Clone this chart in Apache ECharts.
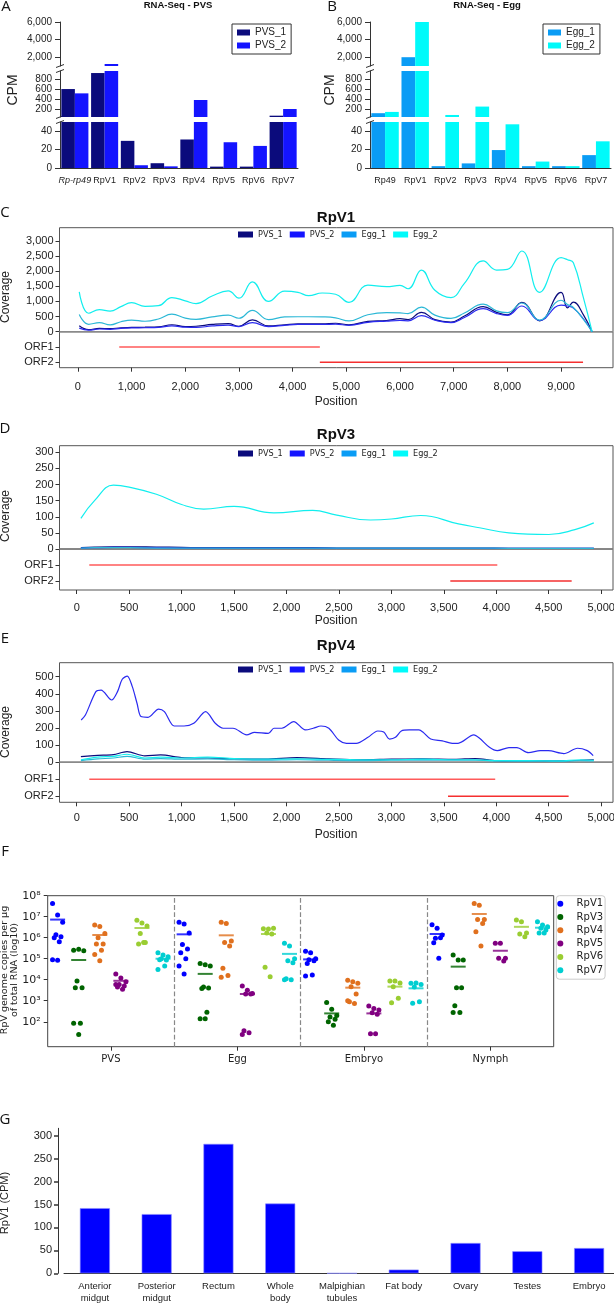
<!DOCTYPE html>
<html>
<head>
<meta charset="utf-8">
<script src="https://cdn.jsdelivr.net/npm/echarts@6/dist/echarts.min.js"></script>
<style>
  html, body { margin: 0; padding: 0; background: #fff; }
  #main { width: 614px; height: 1304px; }
</style>
</head>
<body>
<div id="main"></div>
<script>
// ---- A / B : RNA-Seq CPM (split y axis) ----
var cpmCats = ["Rp-rp49", "RpV1", "RpV2", "RpV3", "RpV4", "RpV5", "RpV6", "RpV7"];
var cpmCatsEgg = ["Rp49", "RpV1", "RpV2", "RpV3", "RpV4", "RpV5", "RpV6", "RpV7"];
var pvs1Cpm = [600, 915, 29.5, 5.2, 31, 1.5, 1.5, 76];
var pvs2Cpm = [515, 1230, 3, 1.8, 385, 28, 24, 207];
var egg1Cpm = [125, 2000, 2, 5, 19.5, 2, 2, 14];
var egg2Cpm = [150, 6000, 90, 255, 47.5, 7, 2, 29];
var segMin = [1000, 50, 0];
var segMax = [6000, 955, 50];
var segTicks = [[2000, 4000, 6000], [200, 400, 600, 800], [0, 20, 40]];

// ---- C : RpV1 coverage ----
var c1Pos = [25, 200, 400, 600, 800, 1000, 1250, 1500, 1750, 2000, 2200, 2500, 2800, 3000, 3250, 3550, 3850, 4100, 4300, 4550,
  4800, 5050, 5400, 5750, 6000, 6150, 6400, 6650, 6950, 7200, 7550, 7800, 8000, 8270, 8600, 9000, 9120, 9230, 9420, 9578];
var c1Pvs1 = [200, 70, 110, 100, 130, 140, 150, 160, 230, 170, 180, 240, 270, 180, 390, 190, 230, 260, 260, 260,
  280, 230, 340, 370, 430, 400, 640, 400, 320, 520, 830, 640, 560, 970, 360, 1300, 790, 980, 550, 0];
var c1Pvs2 = [120, 50, 90, 80, 110, 125, 130, 140, 190, 150, 140, 190, 220, 170, 300, 170, 210, 240, 240, 240,
  250, 210, 310, 350, 370, 360, 530, 380, 300, 470, 760, 600, 540, 850, 370, 880, 850, 780, 420, 0];
var c1Egg1 = [570, 245, 300, 225, 330, 385, 345, 420, 580, 450, 410, 490, 545, 445, 705, 400, 490, 495, 495, 490,
  460, 355, 560, 630, 620, 600, 815, 550, 440, 620, 910, 690, 630, 950, 385, 1040, 900, 800, 400, 0];
var c1Egg2 = [1320, 610, 730, 680, 830, 960, 840, 860, 1130, 1020, 930, 1180, 1350, 1110, 1650, 1000, 1340, 1300, 1190, 1280,
  1240, 970, 1540, 1490, 1530, 1420, 2040, 1370, 1130, 1600, 2340, 2040, 2060, 2670, 1300, 2450, 2380, 2280, 1100, 0];
var c1Orf1 = [770, 4507];
var c1Orf2 = [4507, 9410];

// ---- D : RpV3 coverage ----
var d3Pos = [40, 170, 350, 500, 760, 1000, 1210, 1500, 1880, 2250, 2480, 2800, 3000, 3280, 3640, 3840, 4120, 4500, 4750, 4930];
var d3Pvs1 = [4, 6, 7, 7, 6, 5, 4, 4, 4, 4, 3, 3, 3, 3, 3, 3, 2, 2, 2, 2];
var d3Pvs2 = [3, 4, 5, 5, 4, 3, 3, 3, 3, 3, 2, 2, 2, 2, 2, 2, 2, 2, 2, 2];
var d3Egg1 = [3, 4, 4, 4, 3, 3, 3, 3, 3, 3, 3, 3, 3, 3, 3, 3, 2, 2, 2, 2];
var d3Egg2 = [95, 150, 198, 192, 170, 138, 124, 132, 112, 120, 105, 90, 93, 104, 78, 66, 50, 45, 60, 81];
var d3Orf1 = [120, 4010];
var d3Orf2 = [3562, 4719];

// ---- E : RpV4 coverage ----
var e4Pos = [43, 83, 183, 232, 333, 389, 434, 482, 530, 575, 613, 680, 781, 836, 930, 1023, 1116, 1229, 1321, 1396,
  1490, 1621, 1695, 1826, 1881, 1956, 2069, 2180, 2255, 2329, 2404, 2497, 2572, 2665, 2777, 2870, 2927, 2983, 3039, 3095,
  3170, 3263, 3300, 3375, 3486, 3580, 3636, 3786, 3841, 3935, 4010, 4121, 4196, 4308, 4420, 4495, 4644, 4774, 4868, 4924];
var e4Pvs2 = [247, 276, 413, 422, 364, 413, 485, 504, 442, 345, 267, 263, 311, 296, 212, 212, 228, 296, 228, 199,
  199, 160, 175, 169, 199, 199, 238, 189, 199, 212, 199, 130, 111, 111, 146, 183, 177, 136, 146, 183,
  189, 189, 177, 136, 125, 111, 111, 160, 140, 88, 68, 86, 86, 56, 68, 68, 51, 82, 68, 39];
var e4LowPos = [40, 200, 350, 480, 650, 800, 1000, 1250, 1500, 1800, 2100, 2400, 2700, 3000, 3300, 3600, 3800, 4000, 4300, 4600, 4800, 4930];
var e4Pvs1 = [33, 40, 45, 62, 38, 43, 28, 25, 20, 18, 27, 20, 15, 18, 20, 17, 22, 10, 8, 8, 12, 15];
var e4Egg1 = [10, 20, 25, 35, 18, 22, 18, 20, 15, 12, 15, 12, 10, 12, 13, 12, 12, 8, 7, 6, 10, 8];
var e4Egg2 = [15, 30, 35, 47, 25, 30, 25, 30, 22, 18, 20, 17, 15, 15, 18, 15, 15, 10, 10, 8, 15, 12];
var e4Orf1 = [120, 3990];
var e4Orf2 = [3540, 4690];

// ---- F : RpV genome copies (log10), per stage ----
var stages = ["PVS", "Egg", "Embryo", "Nymph"];
var viruses = ["RpV1", "RpV3", "RpV4", "RpV5", "RpV6", "RpV7"];
var rpv1Copies = [[4.3e7, 1.2e7, 5.5e6, 1.4e6, 1.1e6, 1.0e6, 6.5e5, 9e4, 8.5e4],
  [5.4e6, 4.5e6, 1.7e6, 4.8e5, 2.9e5, 1.9e5, 1.0e5, 4.5e4, 1.9e4],
  [2.3e5, 1.9e5, 1.0e5, 9e4, 8e4, 6e4, 1.7e4, 1.5e4],
  [4.2e6, 2.8e6, 1.35e6, 9.5e5, 1.0e6, 5.7e5, 1.05e5]];
var rpv3Copies = [[2.5e5, 2.8e5, 2.4e5, 8.7e3, 4.2e3, 4.2e3, 85, 85, 25],
  [6e4, 5.2e4, 4.5e4, 4.5e3, 4e3, 3.8e3, 280, 140, 140],
  [830, 390, 200, 170, 130, 100, 69],
  [1.5e5, 8.7e4, 8.7e4, 4.2e3, 4.2e3, 580, 275, 275]];
var rpv4Copies = [[4e6, 3.4e6, 1.6e6, 1e6, 5e5, 5e5, 2.5e5, 1.6e5, 8e4],
  [5.5e6, 4.8e6, 7e5, 6e5, 4e5, 3.5e4, 1.6e4, 1.3e4],
  [9.5e3, 8e3, 6.8e3, 4.7e3, 2.1e3, 890, 740, 1.0e3],
  [4.3e7, 3.5e7, 7.4e6, 7.4e6, 4.8e6, 1.9e6, 4e5]];
var rpv5Copies = [[1.9e4, 1.2e4, 8e3, 6e3, 5e3, 4.5e3, 3.5e3, 6e3],
  [5e3, 3.2e3, 2.2e3, 2.1e3, 2.1e3, 37, 30, 25],
  [560, 430, 360, 270, 230, 27, 27],
  [5.4e5, 5.4e5, 1.05e5, 1.05e5, 7.8e4]];
var rpv6Copies = [[6.8e6, 5e6, 3.6e6, 1.6e6, 6e5, 5e5, 6e5],
  [2.7e6, 2.6e6, 2.8e6, 1.7e6, 1.5e6, 3.9e4, 1.4e4],
  [8.7e3, 8.7e3, 7e3, 4.7e3, 1.3e3, 800],
  [6.9e6, 5.7e6, 1.7e6, 1.5e6, 1.1e6]];
var rpv7Copies = [[1.9e5, 1.5e5, 1.25e5, 1e5, 8.7e4, 9e4, 4.5e4, 3.1e4],
  [5.5e5, 4e5, 1e5, 8e4, 6.5e4, 1.1e4, 1e4, 1e4],
  [6.8e3, 7e3, 6e3, 4.5e3, 900, 750],
  [5.7e6, 4e6, 3.3e6, 2.8e6, 2.3e6, 1.7e6, 1.7e6]];
var rpv1Mean = [7.3e6, 1.45e6, 9.3e4, 1.5e6];
var rpv3Mean = [8.7e4, 1.9e4, 250, 4.2e4];
var rpv4Mean = [1.35e6, 1.3e6, 4.2e3, 1.35e7];
var rpv5Mean = [8.9e3, 2.1e3, 250, 2.4e5];
var rpv6Mean = [2.9e6, 1.5e6, 4.7e3, 3.3e6];
var rpv7Mean = [1e5, 1.7e5, 3.9e3, 3e6];
var logTicks = [1e2, 1e3, 1e4, 1e5, 1e6, 1e7, 1e8];

// ---- G : RpV1 CPM per tissue ----
var tissues = ["Anterior\nmidgut", "Posterior\nmidgut", "Rectum", "Whole\nbody", "Malpighian\ntubules", "Fat body", "Ovary", "Testes", "Embryo"];
var tissueCpm = [142, 129, 282, 152, 0, 8, 66, 48, 55];

var C_PVS1 = "#0b0b7c", C_PVS2 = "#1414ff", C_EGG1 = "#0a9cf5", C_EGG2 = "#00fafa";
var SANS = "'Liberation Sans', Arial, sans-serif";

var grids = [], xAxes = [], yAxes = [], series = [], legends = [], graphics = [];

function thousands(v) {
  return String(v).replace(/\B(?=(\d{3})+(?!\d))/g, ",");
}
function addGrid(g) {
  g.containLabel = false;
  g.outerBoundsMode = "none";
  grids.push(g);
  return grids.length - 1;
}
function line(show, color) {
  return { show: show, onZero: false, lineStyle: { color: color || "#333", width: 1 } };
}
function text(str, x, y, font, rot, color) {
  graphics.push({
    type: "text", x: x, y: y, rotation: rot || 0, silent: true,
    style: { text: str, font: font, fill: color || "#111", textAlign: "center", textVerticalAlign: "middle" }
  });
}
function seg(x1, y1, x2, y2) {
  graphics.push({ type: "line", silent: true, shape: { x1: x1, y1: y1, x2: x2, y2: y2 }, style: { stroke: "#333", lineWidth: 1 } });
}

// split-axis bar panel
function cpmPanel(left, width, cats, names, vals, colors, legendLeft) {
  var tops = [22, 71, 122], heights = [44, 46, 46];
  for (var k = 0; k < 3; k++) {
    var gi = addGrid({ left: left, top: tops[k], width: width, height: heights[k] });
    xAxes.push({
      gridIndex: gi, type: "category", data: cats, show: k === 2,
      axisLine: line(true),
      axisTick: { show: false },
      axisLabel: {
        interval: 0, fontSize: 9, color: "#222", margin: 8, fontFamily: SANS,
        formatter: function (v) { return v === "Rp-rp49" ? "{it|" + v + "}" : v; },
        rich: { it: { fontStyle: "italic", fontSize: 9, color: "#222", fontFamily: SANS } }
      }
    });
    yAxes.push({
      gridIndex: gi, type: "value", min: segMin[k], max: segMax[k],
      axisLine: line(true),
      axisTick: { show: true, length: 5, customValues: segTicks[k], lineStyle: { color: "#333" } },
      axisLabel: { customValues: segTicks[k], formatter: thousands, fontSize: 10, color: "#222", margin: 8, fontFamily: SANS },
      splitLine: { show: false }
    });
    for (var s = 0; s < 2; s++) {
      series.push({
        type: "bar", name: names[s], xAxisIndex: gi, yAxisIndex: gi, data: vals[s], clip: true,
        barGap: "0%", barCategoryGap: "9%", itemStyle: { color: colors[s] }, emphasis: { disabled: true }
      });
    }
  }
  // axis break marks
  var ax = left;
  [66, 71, 117, 122].forEach(function (y) { seg(ax - 4, y + 1.5, ax + 4, y - 1.5); });
  legends.push({
    data: names, orient: "vertical", left: legendLeft, top: 24, icon: "rect",
    itemWidth: 13, itemHeight: 6, itemGap: 2, padding: [3, 5, 3, 5],
    borderColor: "#333", borderWidth: 1, selectedMode: false,
    textStyle: { fontSize: 10, lineHeight: 11, color: "#222", fontFamily: SANS }
  });
}

cpmPanel(60, 238, cpmCats, ["PVS_1", "PVS_2"], [pvs1Cpm, pvs2Cpm], [C_PVS1, C_PVS2], 232);
cpmPanel(370, 241, cpmCatsEgg, ["Egg_1", "Egg_2"], [egg1Cpm, egg2Cpm], [C_EGG1, C_EGG2], 543);

// coverage panel (coverage + ORF track)
function covPanel(p) {
  var frame = { show: true, borderColor: "#555", borderWidth: 1, backgroundColor: "transparent" };
  var gi = addGrid(Object.assign({ left: 59.5, top: p.top, width: 553.5, height: p.zero - p.top }, frame));
  xAxes.push({ gridIndex: gi, type: "value", min: p.xMin, max: p.xMax, show: false, axisLine: line(false) });
  yAxes.push({
    gridIndex: gi, type: "value", min: 0, max: p.yMax,
    axisLine: line(false), splitLine: { show: false },
    axisTick: { show: true, length: 4, customValues: p.yTicks, lineStyle: { color: "#333" } },
    axisLabel: { customValues: p.yTicks, formatter: thousands, fontSize: 11, color: "#222", margin: 6, fontFamily: SANS }
  });
  p.lines.forEach(function (l) {
    series.push({
      type: "line", name: l.name, xAxisIndex: gi, yAxisIndex: gi, clip: true,
      data: l.pos.map(function (x, i) { return [x, l.vals[i]]; }),
      showSymbol: false, smooth: p.smooth, lineStyle: { width: 1.2, color: l.color },
      itemStyle: { color: l.color }, emphasis: { disabled: true }, silent: true
    });
  });
  // zero line
  series.push({
    type: "line", name: "zero", xAxisIndex: gi, yAxisIndex: gi, silent: true, showSymbol: false, clip: false,
    data: [[p.xMin, 0], [p.xMax, 0]], lineStyle: { width: 1.6, color: "#8a8a8a" }, z: 1
  });
  var go = addGrid(Object.assign({ left: 59.5, top: p.zero, width: 553.5, height: p.bottom - p.zero }, frame));
  xAxes.push({
    gridIndex: go, type: "value", min: p.xMin, max: p.xMax,
    axisLine: line(false), splitLine: { show: false },
    axisTick: { show: true, length: 4, customValues: p.xTicks, lineStyle: { color: "#333" } },
    axisLabel: { customValues: p.xTicks, formatter: thousands, fontSize: 11, color: "#222", margin: p.xMargin, fontFamily: SANS }
  });
  yAxes.push({
    gridIndex: go, type: "value", inverse: true, min: 0, max: p.orfMax,
    axisLine: line(false), splitLine: { show: false },
    axisTick: { show: true, length: 4, customValues: [1, 2], lineStyle: { color: "#333" } },
    axisLabel: { customValues: [1, 2], formatter: function (v) { return "ORF" + v; }, fontSize: 11, color: "#222", margin: 6, fontFamily: SANS }
  });
  [p.orf1, p.orf2].forEach(function (o, i) {
    series.push({
      type: "line", name: "orf" + (i + 1), xAxisIndex: go, yAxisIndex: go, silent: true,
      data: [[o[0], i + 1], [o[1], i + 1]], showSymbol: false,
      lineStyle: { width: 1.5, color: i === 0 ? "#ff5a5a" : "#f53030" }
    });
  });
  legends.push({
    data: ["PVS_1", "PVS_2", "Egg_1", "Egg_2"], left: 238, top: p.legendTop, icon: "rect",
    itemWidth: 15, itemHeight: 6, itemGap: 7, padding: 0, selectedMode: false,
    textStyle: { fontSize: 9, color: "#222", fontFamily: "'DejaVu Sans Condensed', 'DejaVu Sans', sans-serif" }
  });
  text(p.title, 336, p.titleY, "bold 15px " + SANS);
  text("Coverage", 6, p.covLabelY, "12px " + SANS, Math.PI / 2, "#222");
  text("Position", 336, p.posY, "12px " + SANS, 0, "#222");
}

var tick1k = [0, 1000, 2000, 3000, 4000, 5000, 6000, 7000, 8000, 9000];
var tick500 = [0, 500, 1000, 1500, 2000, 2500, 3000, 3500, 4000, 4500, 5000];

covPanel({
  title: "RpV1", titleY: 218, top: 227.7, zero: 331.7, bottom: 367.7, xMin: -343, xMax: 9968,
  yMax: 3440, yTicks: [0, 500, 1000, 1500, 2000, 2500, 3000], xTicks: tick1k, orfMax: 2.35, smooth: 0.45,
  orf1: c1Orf1, orf2: c1Orf2, legendTop: 230, covLabelY: 297, posY: 402, xMargin: 14,
  lines: [
    { name: "PVS_1", pos: c1Pos, vals: c1Pvs1, color: C_PVS1 },
    { name: "PVS_2", pos: c1Pos, vals: c1Pvs2, color: "#2a2af0" },
    { name: "Egg_1", pos: c1Pos, vals: c1Egg1, color: "#2cb8d6" },
    { name: "Egg_2", pos: c1Pos, vals: c1Egg2, color: "#12eeee" }
  ]
});
covPanel({
  title: "RpV3", titleY: 435, top: 445.7, zero: 549, bottom: 590, xMin: -164, xMax: 5113,
  yMax: 320.5, yTicks: [0, 50, 100, 150, 200, 250, 300], xTicks: tick500, orfMax: 2.56, smooth: 0.45,
  orf1: d3Orf1, orf2: d3Orf2, legendTop: 449, covLabelY: 516, posY: 621, xMargin: 12,
  lines: [
    { name: "PVS_1", pos: d3Pos, vals: d3Pvs1, color: C_PVS1 },
    { name: "PVS_2", pos: d3Pos, vals: d3Pvs2, color: "#2a2af0" },
    { name: "Egg_1", pos: d3Pos, vals: d3Egg1, color: "#2cb8d6" },
    { name: "Egg_2", pos: d3Pos, vals: d3Egg2, color: "#12eeee" }
  ]
});
covPanel({
  title: "RpV4", titleY: 646, top: 662.7, zero: 762.3, bottom: 802.3, xMin: -164, xMax: 5113,
  yMax: 582, yTicks: [0, 100, 200, 300, 400, 500], xTicks: tick500, orfMax: 2.35, smooth: 0.3,
  orf1: e4Orf1, orf2: e4Orf2, legendTop: 665, covLabelY: 732, posY: 835, xMargin: 10,
  lines: [
    { name: "PVS_1", pos: e4LowPos, vals: e4Pvs1, color: C_PVS1 },
    { name: "Egg_1", pos: e4LowPos, vals: e4Egg1, color: "#2cb8d6" },
    { name: "Egg_2", pos: e4LowPos, vals: e4Egg2, color: "#12eeee" },
    { name: "PVS_2", pos: e4Pos, vals: e4Pvs2, color: "#2a2af0" }
  ]
});

// F : scatter of genome copies
var vColors = ["#0000ff", "#006400", "#e0701e", "#800080", "#9acd32", "#00ced1"];
var vCopies = [rpv1Copies, rpv3Copies, rpv4Copies, rpv5Copies, rpv6Copies, rpv7Copies];
var vMeans = [rpv1Mean, rpv3Mean, rpv4Mean, rpv5Mean, rpv6Mean, rpv7Mean];
var sup = ["⁰", "¹", "²", "³", "⁴", "⁵", "⁶", "⁷", "⁸", "⁹"];
var fg = addGrid({ left: 47.7, top: 895.7, width: 506, height: 151, show: true, borderColor: "#444", borderWidth: 1, backgroundColor: "transparent" });
xAxes.push({
  gridIndex: fg, type: "value", min: 0, max: 24,
  axisLine: line(false), splitLine: { show: false },
  axisTick: { show: true, length: 4, customValues: [3, 9, 15, 21], lineStyle: { color: "#333" } },
  axisLabel: { customValues: [3, 9, 15, 21], formatter: function (v) { return stages[(v - 3) / 6]; }, fontSize: 10, color: "#222", margin: 8, fontFamily: "'DejaVu Sans', sans-serif" }
});
yAxes.push({
  gridIndex: fg, type: "log", logBase: 10, min: 6.5, max: 1e8,
  axisLine: line(false), splitLine: { show: false }, minorTick: { show: false },
  axisTick: { show: true, length: 4, customValues: logTicks, lineStyle: { color: "#333" } },
  axisLabel: {
    customValues: logTicks, fontSize: 11, color: "#222", margin: 7, fontFamily: "'DejaVu Sans', sans-serif",
    formatter: function (v) { return "10" + sup[Math.round(Math.log10(v))]; }
  }
});
viruses.forEach(function (name, v) {
  var pts = [];
  vCopies[v].forEach(function (grp, g) {
    grp.forEach(function (val, k) {
      var jit = (((k * 3) % 7) - 3) * 0.08;
      pts.push([g * 6 + v + 0.47 + jit, val]);
    });
  });
  series.push({
    type: "scatter", name: name, xAxisIndex: fg, yAxisIndex: fg, data: pts, symbolSize: 5,
    itemStyle: { color: vColors[v], opacity: 1 }, emphasis: { disabled: true }, silent: true,
    markLine: v === 0 ? {
      silent: true, symbol: "none", label: { show: false },
      lineStyle: { type: "dashed", color: "#888", width: 1.2 },
      data: [{ xAxis: 6 }, { xAxis: 12 }, { xAxis: 18 }]
    } : undefined
  });
  series.push({
    type: "scatter", name: name + " mean", xAxisIndex: fg, yAxisIndex: fg, silent: true,
    data: vMeans[v].map(function (m, g) { return [g * 6 + v + 0.47, m]; }),
    symbol: "rect", symbolSize: [15, 2], itemStyle: { color: vColors[v] }, z: 3
  });
});
legends.push({
  data: viruses, orient: "vertical", left: 556.3, top: 895.7, icon: "circle",
  itemWidth: 22.6, itemHeight: 6, itemGap: 1.3, padding: [2, 2, 3, 1],
  borderColor: "#ccc", borderWidth: 1, borderRadius: 3, selectedMode: false,
  textStyle: { fontSize: 10, lineHeight: 12, color: "#222", fontFamily: "'DejaVu Sans', sans-serif" }
});

// G : RpV1 CPM per tissue
var gg = addGrid({ left: 64, top: 1128.3, width: 556, height: 145 });
xAxes.push({
  gridIndex: gg, type: "category", data: tissues,
  axisLine: line(true),
  axisTick: { alignWithLabel: true, length: 4, lineStyle: { color: "#222", width: 2 } },
  axisLabel: { interval: 0, fontSize: 9.5, lineHeight: 12, color: "#222", margin: 7, fontFamily: "'Liberation Sans Narrow', 'Liberation Sans', sans-serif" }
});
yAxes.push({
  gridIndex: gg, type: "value", min: 0, max: 316, offset: 6,
  axisLine: line(true), splitLine: { show: false },
  axisTick: { show: true, length: 4, customValues: [0, 50, 100, 150, 200, 250, 300], lineStyle: { color: "#333", width: 1.5 } },
  axisLabel: { customValues: [0, 50, 100, 150, 200, 250, 300], fontSize: 11, color: "#222", margin: 6, fontFamily: SANS }
});
series.push({
  type: "bar", name: "RpV1 CPM", xAxisIndex: gg, yAxisIndex: gg, data: tissueCpm, barWidth: 30,
  itemStyle: { color: "#0000ff", borderColor: "#8c8cff", borderWidth: 0.6 }, emphasis: { disabled: true }
});

// panel letters and free titles
var LETTER = "15px 'Open Sans', sans-serif";
text("A", 6, 7, LETTER); text("B", 332, 7, LETTER);
text("C", 5, 213, LETTER); text("D", 5, 429, LETTER);
text("E", 5, 639, LETTER); text("F", 5, 852, LETTER); text("G", 5, 1120, LETTER);
text("RNA-Seq - PVS", 178, 5, "bold 9.5px " + SANS);
text("RNA-Seq - Egg", 487, 5, "bold 9.5px " + SANS);
text("CPM", 13, 90, "14px " + SANS, Math.PI / 2, "#222");
text("CPM", 330, 90, "14px " + SANS, Math.PI / 2, "#222");
text("RpV genome copies per μg\nof total RNA (log10)", 10, 970, "9.5px 'DejaVu Sans', sans-serif", Math.PI / 2, "#222");
text("RpV1 (CPM)", 5, 1203, "11px " + SANS, Math.PI / 2, "#222");

var chart = echarts.init(document.getElementById("main"));
chart.setOption({
  animation: false,
  backgroundColor: "#fff",
  textStyle: { fontFamily: SANS },
  grid: grids,
  xAxis: xAxes,
  yAxis: yAxes,
  legend: legends,
  series: series,
  graphic: graphics
});
</script>
</body>
</html>
